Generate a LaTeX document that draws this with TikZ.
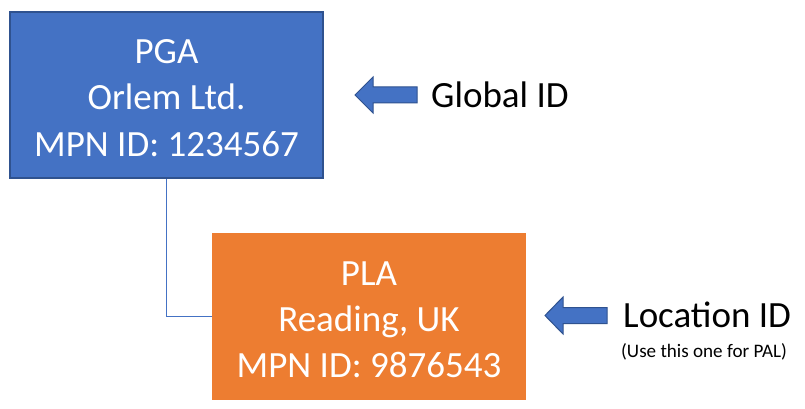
\documentclass[tikz,border=0pt]{standalone}
\usepackage{fontspec}
\setmainfont{Carlito}
\definecolor{pblue}{HTML}{4472C4}
\definecolor{pbluedark}{HTML}{2F528F}
\definecolor{porange}{HTML}{ED7D31}
\tikzset{
  bluebox/.style={draw=pbluedark, fill=pblue, line width=1.5pt, inner sep=0pt},
  orangebox/.style={draw=porange, fill=porange, line width=1pt, inner sep=0pt},
  boxtext/.style={text=white, font=\fontsize{37}{46}\selectfont, inner sep=0pt, anchor=base},
  labeltext/.style={text=black, font=\fontsize{37}{46}\selectfont, inner sep=0pt, anchor=base west},
  smalltext/.style={text=black, font=\fontsize{19.1}{22}\selectfont, inner sep=0pt, anchor=base west},
  conn/.style={draw=pblue, line width=1pt},
  leftarrow/.style={draw=pbluedark, fill=pblue, line width=1pt, line join=miter}
}
\begin{document}
\begin{tikzpicture}[x=1pt,y=-1pt]
\useasboundingbox (0,0) rectangle (805,409);
\fill[white] (0,0) rectangle (805,409);
% boxes
\node[bluebox, minimum width=313pt, minimum height=166pt] (pga) at (166.5,95) {};
\node[orangebox, minimum width=313pt, minimum height=166pt] (pla) at (369,316.5) {};
% connector
\draw[conn] (pga.south) |- (pla.west);
% box texts
\node[boxtext] (pga1) at (166.5,64) {PGA};
\node[boxtext] (pga2) at (166.5,110) {Orlem Ltd.};
\node[boxtext] (pga3) at (166.5,156) {MPN ID: 1234567};
\node[boxtext] (pla1) at (369,285) {PLA};
\node[boxtext] (pla2) at (369,331) {Reading, UK};
\node[boxtext] (pla3) at (369,377) {MPN ID: 9876543};
% arrows
\draw[leftarrow] (355,95) -- (373,77) -- (373,87) -- (417,87) -- (417,103) -- (373,103) -- (373,113) -- cycle;
\draw[leftarrow] (545,315.5) -- (563,297) -- (563,307.5) -- (607,307.5) -- (607,323.5) -- (563,323.5) -- (563,334) -- cycle;
% labels
\node[labeltext] (gid) at (431,107) {Global ID};
\node[labeltext] (lid) at (623,327) {Location ID};
\node[smalltext] (use) at (621,357) {(Use this one for PAL)};
\end{tikzpicture}
\end{document}
